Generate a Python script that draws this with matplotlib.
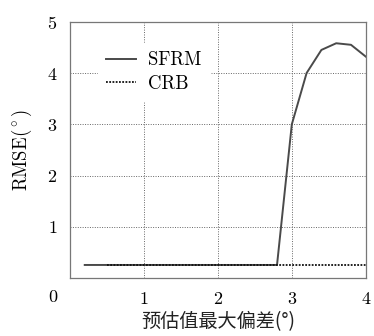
"""RMSE versus maximum deviation of the initial estimate"""

import matplotlib
matplotlib.use("Agg")
import matplotlib.pyplot as plt

plt.rcParams['font.family'] = ['cmr10', 'Noto Sans CJK SC', 'DejaVu Sans']
plt.rcParams['mathtext.fontset'] = 'cm'
plt.rcParams['axes.formatter.use_mathtext'] = True

# Data
sfrm_x = [0.2, 0.4, 0.6, 0.8, 1.0, 1.2, 1.4, 1.6, 1.8, 2.0, 2.2, 2.4, 2.6, 2.8,
          3.0, 3.2, 3.4, 3.6, 3.8, 4.0]
sfrm_y = [0.26, 0.26, 0.26, 0.26, 0.26, 0.26, 0.26, 0.26, 0.26, 0.26, 0.26, 0.26, 0.26, 0.26,
          3.0, 4.0, 4.45, 4.58, 4.55, 4.32]
crb_x = [0.5, 1.0, 1.5, 2.0, 2.5, 3.0, 3.5, 4.0]
crb_y = [0.255, 0.255, 0.255, 0.255, 0.255, 0.255, 0.255, 0.255]

x_ticks = [1, 2, 3, 4]
y_ticks = [1, 2, 3, 4, 5]

fig = plt.figure(figsize=(3.74, 3.36), dpi=100)
ax = fig.add_axes([0.187, 0.1717, 0.791, 0.7637])

# Plot the data
ax.plot(sfrm_x, sfrm_y, color="#4a4a4a", linewidth=1.4, label="SFRM")
ax.plot(crb_x, crb_y, color="#111111", linewidth=1.3, linestyle=(0, (1, 0.8)), label="CRB")

ax.set_xlim(0, 4)
ax.set_ylim(0, 5)
ax.set_xticks(x_ticks)
ax.set_yticks(y_ticks)
ax.tick_params(length=0, labelsize=13)
ax.tick_params(axis="x", pad=9)
ax.tick_params(axis="y", pad=9)

# shared corner label
ax.annotate("0", xy=(0, 0), xycoords="data", xytext=(-12, -14), textcoords="offset points",
            ha="center", va="center", fontsize=13)

ax.grid(True, color="#666666", linestyle=(0, (1, 1.5)), linewidth=0.7)
for s in ax.spines.values():
    s.set_color("#777777")
    s.set_linewidth(0.9)

# Add labels/legend
ax.set_xlabel("预估值最大偏差(°)", fontsize=13.8, labelpad=3,
              family=['Noto Sans CJK SC'], color="#222222")
ax.set_ylabel(r"$\mathrm{RMSE}(^\circ)$", fontsize=13.5, labelpad=9)
leg = ax.legend(loc="upper left", bbox_to_anchor=(0.095, 0.917), borderaxespad=0,
                fontsize=13.5, handlelength=1.6, handletextpad=0.6, labelspacing=0.3,
                borderpad=0.45, fancybox=False, framealpha=1, edgecolor="white")

fig.savefig("out.png", dpi=100)
